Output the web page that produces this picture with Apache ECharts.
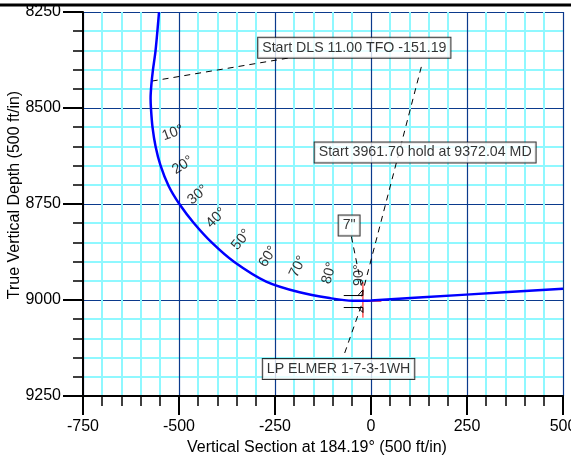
<!DOCTYPE html>
<html lang="en">
<head>
<meta charset="UTF-8" />
<title>Vertical Section</title>
<script src="https://cdn.jsdelivr.net/npm/echarts@6/dist/echarts.min.js"></script>
<style>
  html, body { margin: 0; padding: 0; background: #fff; }
  #main { width: 571px; height: 458px; }
</style>
</head>
<body>
<div id="main"></div>
<script>
// well path: vertical section (ft) and true vertical depth (ft)
var pathVS = [-552, -561, -568, -572, -574, -573, -569, -561, -548, -527, -499, -461, -413, -356, -273, -186, -108, -48, 0, 248, 500];
var pathTVD = [8250, 8350, 8402, 8440, 8475, 8501, 8550, 8600, 8650, 8703, 8750, 8800, 8852, 8901, 8952, 8980, 8995, 9002, 9001, 8986, 8970.5];

// inclination marks
var incText = ["10°", "20°", "30°", "40°", "50°", "60°", "70°", "80°", "90°"];
var incVS = [-516, -490, -451, -403, -338, -268, -190, -109, -31];
var incTVD = [8565, 8649, 8726, 8786, 8843, 8887, 8913, 8930, 8935];

// annotation boxes
var noteText = ["Start DLS 11.00 TFO -151.19", "Start 3961.70 hold at 9372.04 MD", "7\"", "LP ELMER 1-7-3-1WH"];
var noteVS = [-43.5, 141, -57, -84.5];
var noteTVD = [8343, 8616, 8806, 9179.5];

// leader lines, [start, end]
var leaderVS = [[-571, -204], [131, -27], [-51, -24], [-68.5, -21.6]];
var leaderTVD = [[8430, 8368], [8393, 9000], [8835, 8968.5], [9138, 9004.4]];

// casing shoe marks at 7"
var shoeUpVS = [-71, -21, -21, -34];
var shoeUpTVD = [8988.4, 8988.4, 8973.6, 8988.4];
var shoeLoVS = [-71, -21, -21, -34];
var shoeLoTVD = [9019.6, 9019.6, 9032.6, 9019.6];
var targetVS = [[-21, -21], [-21, 27]];
var targetTVD = [[8953, 9046], [9003, 9003]];

var incRotate = [20, 33, 40, 45, 50, 57, 64, 74, 90];

function pairs(xs, ys) {
  return xs.map(function (x, i) { return [x, ys[i]]; });
}

var font = "Liberation Sans, Arial, sans-serif";
var series = [];

series.push({
  type: "line",
  data: pairs(pathVS, pathTVD),
  smooth: 0.3,
  symbol: "none",
  lineStyle: { color: "#0000ff", width: 2.5 },
  z: 4
});

leaderVS.forEach(function (xs, i) {
  series.push({
    type: "line",
    data: pairs(xs, leaderTVD[i]),
    symbol: "none",
    lineStyle: { color: "#000", width: 1, type: [6, 5] },
    z: 3
  });
});

[[shoeUpVS, shoeUpTVD], [shoeLoVS, shoeLoTVD]].forEach(function (s) {
  series.push({
    type: "line",
    data: pairs(s[0], s[1]),
    symbol: "none",
    lineStyle: { color: "#000", width: 1 },
    z: 5
  });
});

targetVS.forEach(function (xs, i) {
  series.push({
    type: "line",
    data: pairs(xs, targetTVD[i]),
    symbol: "none",
    lineStyle: { color: "#ff0000", width: 1 },
    z: 3
  });
});

// angle labels
series.push({
  type: "scatter",
  symbolSize: 0,
  z: 6,
  data: incText.map(function (t, i) {
    return {
      value: [incVS[i], incTVD[i]],
      label: { formatter: t, rotate: incRotate[i] }
    };
  }),
  label: {
    show: true,
    position: "inside",
    color: "#000",
    fontSize: 14.5,
    fontFamily: font
  }
});

// boxed notes
series.push({
  type: "scatter",
  symbolSize: 0,
  z: 7,
  data: noteText.map(function (t, i) {
    return { value: [noteVS[i], noteTVD[i]], label: { formatter: t } };
  }),
  label: {
    show: true,
    position: "inside",
    color: "#000",
    fontSize: 14.2,
    fontFamily: font,
    backgroundColor: "#fff",
    borderColor: "#000",
    borderWidth: 1,
    padding: [3, 4, 3, 4]
  }
});

var myChart = echarts.init(document.getElementById("main"));
myChart.setOption({
  animation: false,
  grid: { left: 83, top: 12, width: 480, height: 384, containLabel: false, outerBoundsMode: "none" },
  graphic: [
    {
      type: "line",
      shape: { x1: 0, y1: 5, x2: 571, y2: 5 },
      style: { stroke: "#000", lineWidth: 3 }
    }
  ],
  xAxis: {
    type: "value",
    min: -750,
    max: 500,
    interval: 250,
    name: "Vertical Section at 184.19° (500 ft/in)",
    nameLocation: "middle",
    nameGap: 44,
    nameMoveOverlap: false,
    nameTextStyle: { color: "#000", fontSize: 16, fontFamily: font, padding: [0, 12, 0, 0] },
    axisLine: { onZero: false, lineStyle: { color: "#000", width: 2 } },
    axisTick: { length: 19, lineStyle: { color: "#000", width: 2 } },
    minorTick: { show: true, splitNumber: 5, length: 10, lineStyle: { color: "#000", width: 1.5 } },
    axisLabel: { color: "#000", fontSize: 16, fontFamily: font, margin: 23, formatter: function (v) { return String(v); } },
    splitLine: { show: true, lineStyle: { color: "#0b3a8c", width: 1.2 } },
    minorSplitLine: { show: true, lineStyle: { color: "#8ff8ff", width: 2 } }
  },
  yAxis: {
    type: "value",
    inverse: true,
    min: 8250,
    max: 9250,
    interval: 250,
    name: "True Vertical Depth (500 ft/in)",
    nameLocation: "middle",
    nameGap: 60,
    nameMoveOverlap: false,
    nameTextStyle: { color: "#000", fontSize: 16, fontFamily: font, padding: [0, 0, 0, 18] },
    axisLine: { onZero: false, lineStyle: { color: "#000", width: 2 } },
    axisTick: { length: 20, lineStyle: { color: "#000", width: 2 } },
    minorTick: { show: true, splitNumber: 5, length: 10, lineStyle: { color: "#000", width: 1.5 } },
    axisLabel: { color: "#000", fontSize: 16, fontFamily: font, margin: 22, formatter: function (v) { return String(v); } },
    splitLine: { show: true, lineStyle: { color: "#0b3a8c", width: 1.2 } },
    minorSplitLine: { show: true, lineStyle: { color: "#8ff8ff", width: 2 } }
  },
  series: series
});
</script>
</body>
</html>
